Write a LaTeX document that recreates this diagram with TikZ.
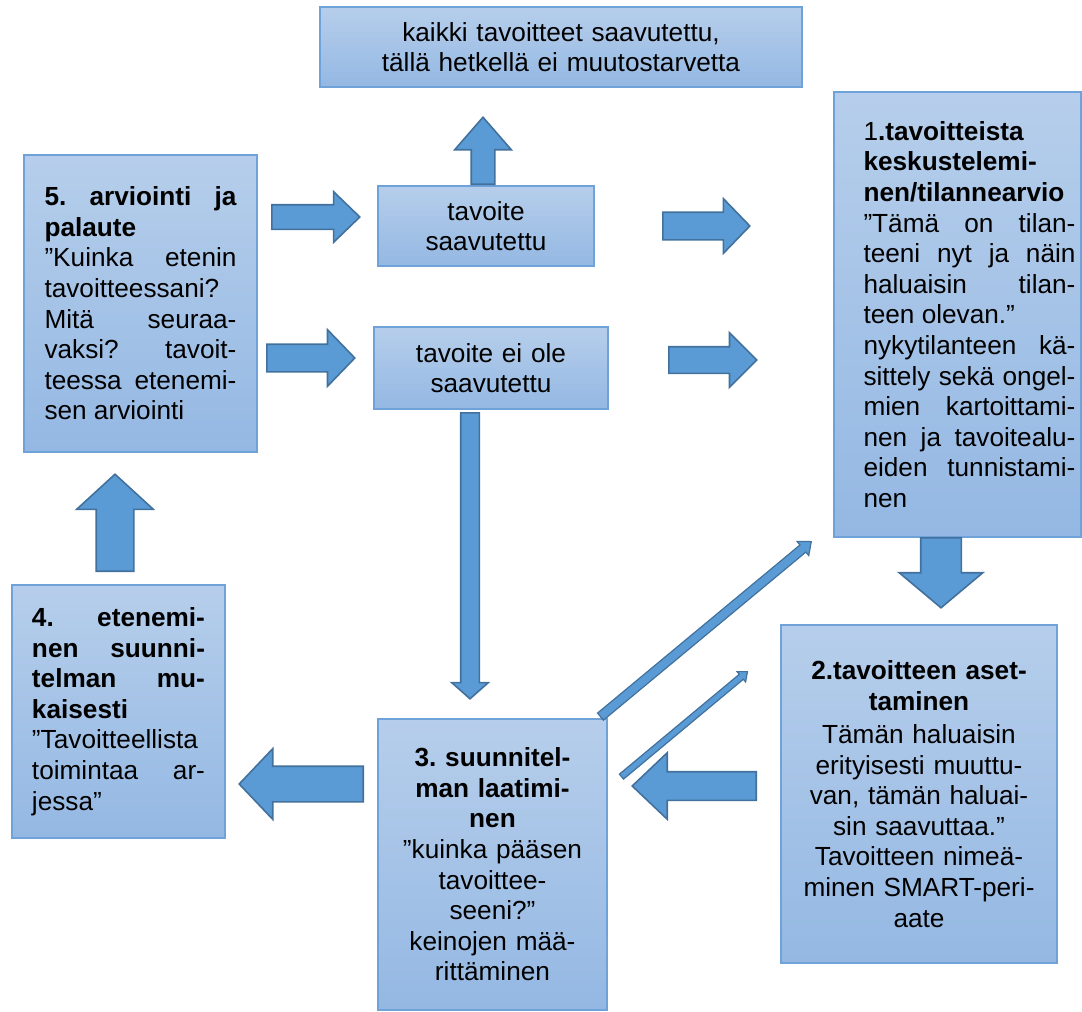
\documentclass[tikz,border=0pt]{standalone}
\usepackage{fontspec}
\setmainfont{Liberation Sans}
\usetikzlibrary{shapes.arrows}
\definecolor{paneltop}{HTML}{B6CEEB}
\definecolor{panelbot}{HTML}{94B8E3}
\definecolor{panelline}{HTML}{6FA2D9}
\definecolor{arrowfill}{HTML}{5B9BD5}
\definecolor{arrowline}{HTML}{41719C}
\newlength{\px}\setlength{\px}{0.5pt}
\newcommand{\boxfont}{\fontsize{13.1pt}{15.3pt}\selectfont}
\hyphenpenalty=10000
\exhyphenpenalty=10000
\tolerance=10000
\hbadness=10000
\frenchspacing

\begin{document}
\begin{tikzpicture}[x=0.5pt, y=-0.5pt,
    panel/.style={rectangle, draw=panelline, line width=0.6pt, top color=paneltop, bottom color=panelbot, text=black, font=\boxfont\frenchspacing, inner sep=0pt},
    barrow/.style n args={4}{single arrow, draw=arrowline, fill=arrowfill, line width=0.8pt, inner xsep=0pt, inner ysep=#2\px, minimum height=#1\px, single arrow head extend=#3\px, single arrow tip angle=#4, anchor=tail}
]
    \useasboundingbox (0,0) rectangle (1082,1012);

    \node[panel, minimum width=482\px, minimum height=80\px, text width=460\px, align=center] (allgoals) at (561,47) {kaikki tavoitteet saavutettu,\\ tällä hetkellä ei muutostarvetta};
    \node[panel, minimum width=216\px, minimum height=80\px, text width=200\px, align=center] (reached) at (486,226) {tavoite\\ saavutettu};
    \node[panel, minimum width=234\px, minimum height=82\px, text width=220\px, align=center] (notreached) at (491,368) {tavoite ei ole\\ saavutettu};

    \node[panel, minimum width=233\px, minimum height=297\px, text width=192\px, align=justify] (evaluate) at (140.5,303.5) {%
        \textbf{5. arviointi ja\linebreak palaute}\par
        ”Kuinka etenin\linebreak tavoitteessani?\linebreak Mitä seuraa-\linebreak vaksi? tavoit-\linebreak teessa etenemi-\linebreak sen arviointi};
    \node[panel, minimum width=247\px, minimum height=445\px, text width=236\px, align=justify] (discuss) at (957.5,314.5) {%
        \leftskip=24\px
        1\textbf{.tavoitteista\\ keskustelemi-\\ nen/tilannearvio}\par
        \leftskip=24\px
        ”Tämä on tilan-\linebreak teeni nyt ja näin\linebreak haluaisin tilan-\linebreak teen olevan.”\par
        \leftskip=24\px
        nykytilanteen kä-\linebreak sittely sekä ongel-\linebreak mien kartoittami-\linebreak nen ja tavoitealu-\linebreak eiden tunnistami-\linebreak nen\par};
    \node[panel, minimum width=276\px, minimum height=338\px, text width=246\px, align=center] (setgoal) at (919,794) {%
        \textbf{2.tavoitteen aset-\\ taminen}\\[2.5\px]
        Tämän haluaisin\\ erityisesti muuttu-\\ van, tämän haluai-\\ sin saavuttaa.”\\ Tavoitteen nimeä-\\ minen SMART-peri-\\ aate};
    \node[panel, minimum width=229\px, minimum height=291\px, text width=200\px, align=center] (plan) at (492.5,864.5) {%
        \textbf{3. suunnitel-\\ man laatimi-\\ nen}\\
        ”kuinka pääsen\\ tavoittee-\\ seeni?”\\ keinojen mää-\\ rittäminen};
    \node[panel, minimum width=213\px, minimum height=253\px, text width=173\px, align=justify] (act) at (118.5,711.5) {%
        \textbf{4. etenemi-\linebreak nen suunni-\linebreak telman mu-\linebreak kaisesti}\par
        ”Tavoitteellista\linebreak toimintaa ar-\linebreak jessa”};

    \node[barrow={67}{11}{16.5}{82}, rotate=90] (upall) at (483,185) {};
    \node[barrow={87}{13}{13.5}{92}] (reachedgo) at (662,226) {};
    \node[barrow={88}{12.5}{14}{90}] (notreachedgo) at (668,360) {};
    \node[barrow={88}{11.5}{13}{88}] (toreached) at (271,217) {};
    \node[barrow={88}{13}{14.5}{92}] (tonotreached) at (266,358) {};
    \node[barrow={70}{19.5}{21.5}{100}, rotate=-90] (tosetgoal) at (941,537) {};
    \node[barrow={286}{8.5}{9}{97}, rotate=-90] (toplan) at (470,412) {};
    \node[barrow={97}{18}{19.5}{95}, rotate=90] (toevaluate) at (115,572) {};
    \node[barrow={124}{17}{17.5}{93}, rotate=180] (toact) at (364,784) {};
    \node[barrow={124}{13.5}{19}{87}, rotate=180] (backplan) at (757,786) {};
    \node[barrow={274}{4}{4.5}{80}, rotate=39.7, line width=0.6pt] (plandiscuss) at (600,717) {};
    \node[barrow={164}{2.6}{3.5}{80}, rotate=39.8, line width=0.6pt] (plansetgoal) at (621,777) {};
\end{tikzpicture}
\end{document}
